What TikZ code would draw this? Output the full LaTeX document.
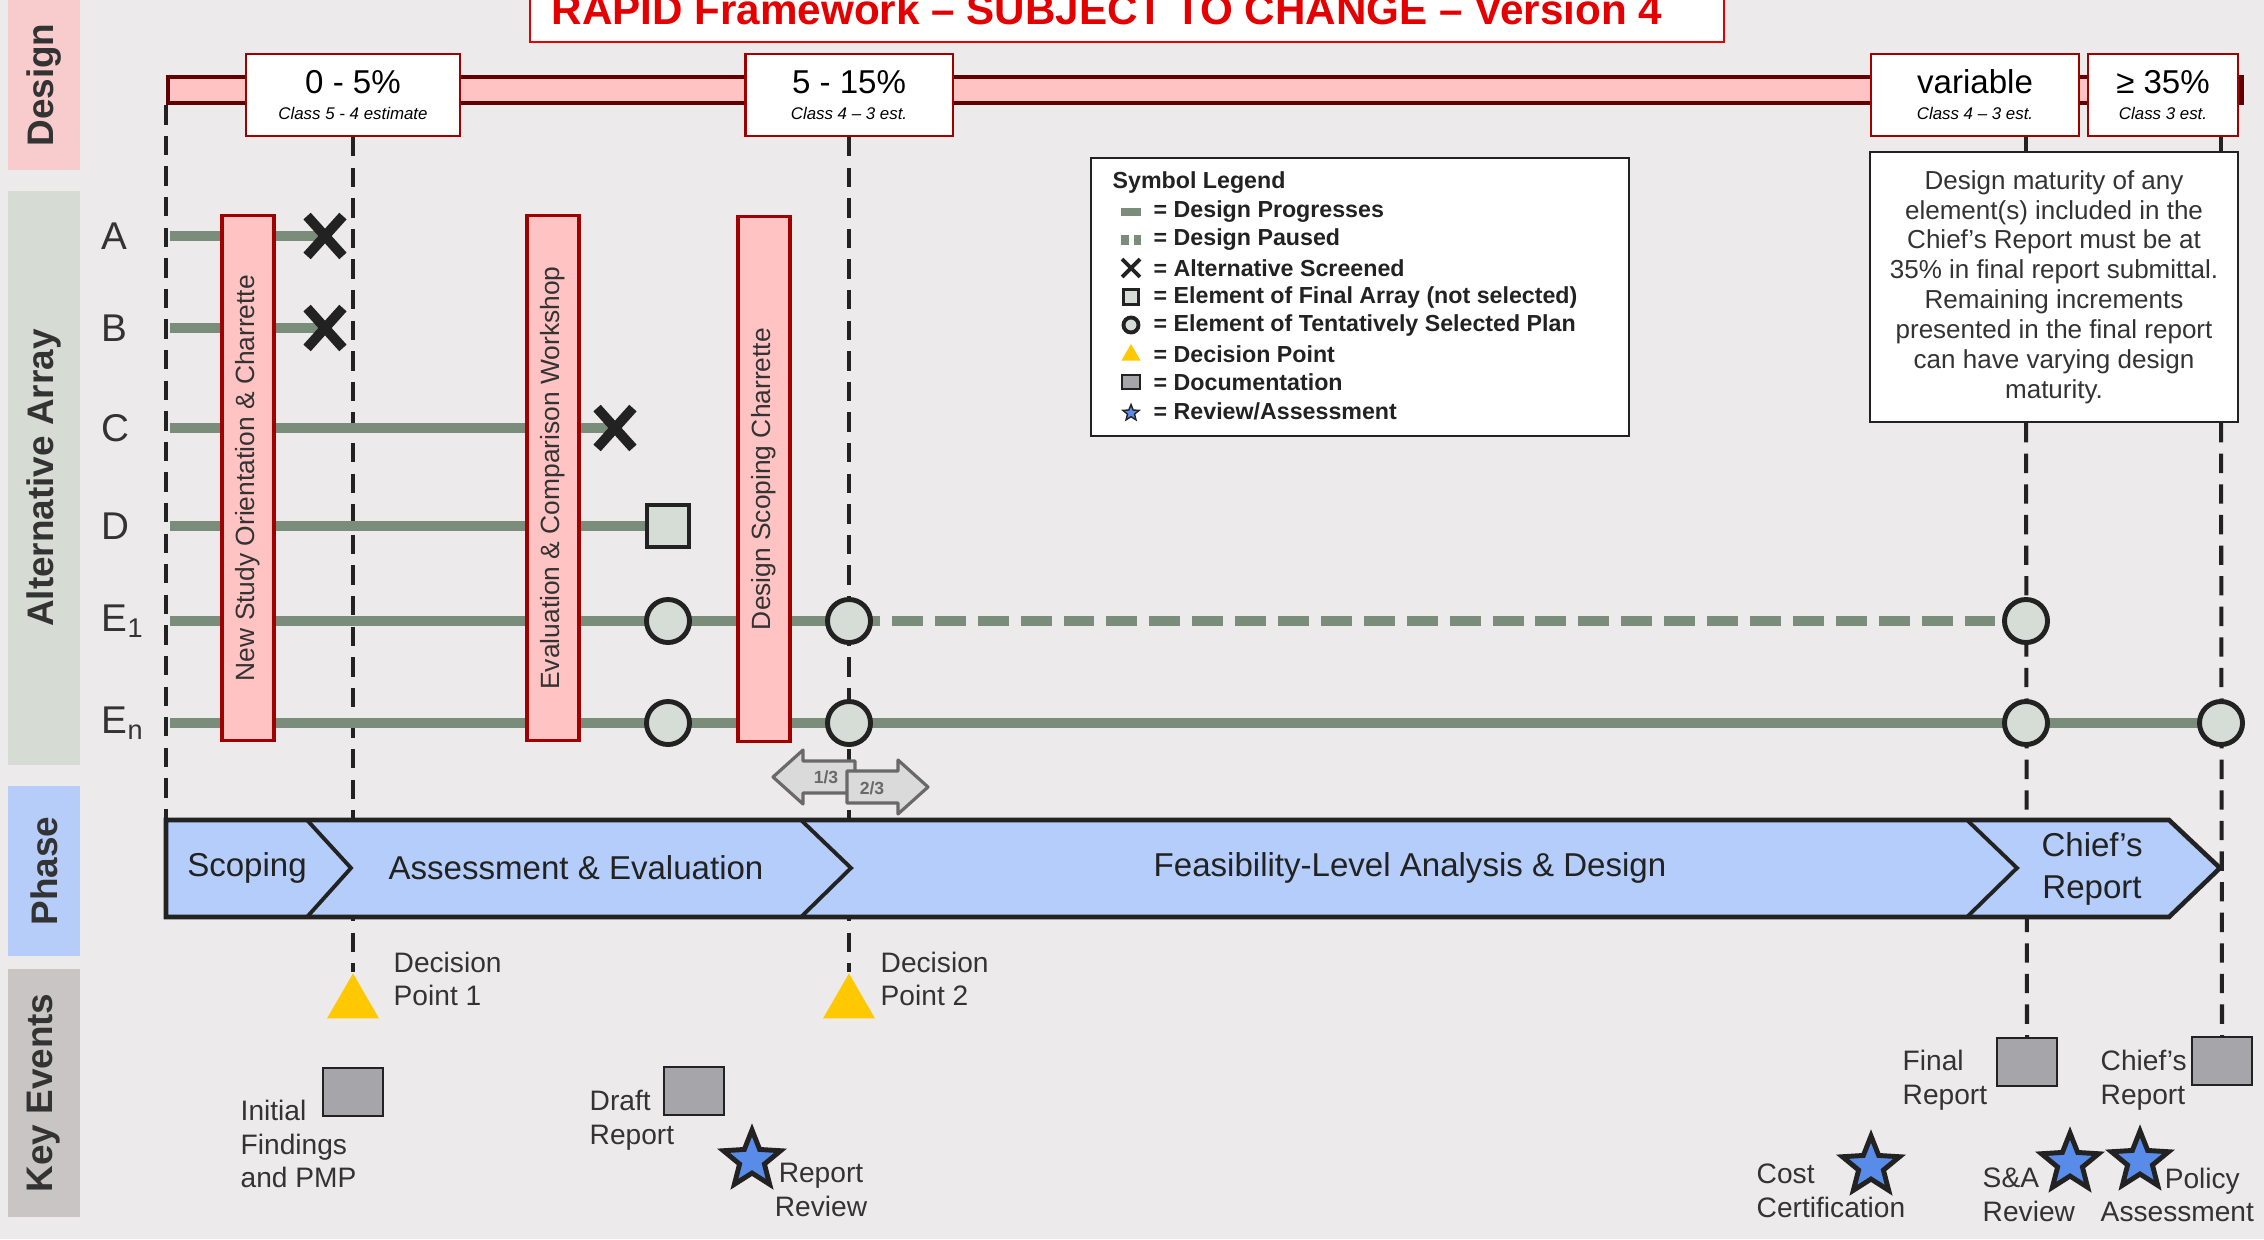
\documentclass[tikz,border=0pt]{standalone}
\usepackage{fontspec}
\setmainfont{Liberation Sans}
\usetikzlibrary{positioning, shapes.geometric, shapes.misc}

\definecolor{bgcol}{RGB}{236,234,234}
\definecolor{ink}{RGB}{34,34,34}
\definecolor{txt}{RGB}{51,51,51}
\definecolor{progcol}{RGB}{122,140,122}
\definecolor{symfill}{RGB}{214,221,214}
\definecolor{barpink}{RGB}{255,195,195}
\definecolor{barred}{RGB}{160,0,0}
\definecolor{titlered}{RGB}{228,0,0}
\definecolor{phaseblue}{RGB}{181,205,250}
\definecolor{dpyellow}{RGB}{255,200,0}
\definecolor{docgray}{RGB}{166,166,170}
\definecolor{starblue}{RGB}{88,140,232}
\definecolor{designband}{RGB}{248,204,204}
\definecolor{altband}{RGB}{214,219,211}
\definecolor{phaseband}{RGB}{181,205,248}
\definecolor{keyband}{RGB}{201,197,197}
\definecolor{arrowgray}{RGB}{218,218,218}
\definecolor{arrowedge}{RGB}{105,105,105}

\pgfdeclarelayer{back}
\pgfdeclarelayer{links}
\pgfsetlayers{back,links,main}

\newcommand{\fsz}[2]{\fontsize{#1}{#2}\selectfont}

\tikzset{
  band/.style={fill=#1, rotate=90, minimum height=0.72cm, inner sep=0pt,
    text=txt, font=\bfseries\fsz{10.5}{12}},
  row label/.style={anchor=west, inner sep=0pt, text=txt, font=\fsz{11}{13}},
  stage/.style={rectangle, rotate=90, fill=barpink, draw=barred, line width=0.9pt,
    minimum width=5.25cm, minimum height=0.52cm, inner sep=0pt, text=txt,
    font=\fsz{7.5}{9}},
  pct/.style={rectangle, fill=white, draw=barred, line width=0.6pt,
    minimum height=0.82cm, inner sep=0pt, align=center, text=black,
    font=\fsz{9.4}{7.4}},
  prog/.style={progcol, line width=2.85pt},
  paused/.style={prog, dash pattern=on 8.8pt off 3.4pt},
  vdash/.style={ink, line width=1.15pt, dash pattern=on 5.5pt off 3.2pt},
  xmark/.style={cross out, draw=ink, line width=2.8pt, minimum width=0.26cm,
    minimum height=0.30cm, inner sep=0pt},
  sq/.style={rectangle, fill=symfill, draw=ink, line width=1.4pt,
    minimum size=0.42cm, inner sep=0pt},
  tsp/.style={circle, fill=symfill, draw=ink, line width=1.4pt,
    minimum size=0.43cm, inner sep=0pt},
  dtri/.style={regular polygon, regular polygon sides=3, fill=dpyellow,
    minimum size=0.60cm, inner sep=0pt},
  doc/.style={chamfered rectangle, chamfered rectangle corners=south east,
    chamfered rectangle xsep=0.07cm, chamfered rectangle ysep=0.07cm,
    fill=docgray, draw=ink, line width=0.6pt, minimum width=0.60cm,
    minimum height=0.48cm, inner sep=0pt},
  review/.style={star, star points=5, star point ratio=2.3, fill=starblue,
    draw=ink, line width=1.4pt, minimum size=0.60cm, inner sep=0pt},
  evt/.style={anchor=west, inner sep=0pt, align=left, text=txt, font=\fsz{8}{9.6}},
  phase/.style={text=ink, font=\fsz{9.4}{11.7}, align=center},
  legtxt/.style={anchor=west, text=ink, font=\bfseries\fsz{6.6}{8}, inner sep=0pt},
  thirds/.style={fill=arrowgray, draw=arrowedge, line width=0.9pt, line join=round},
}

\begin{document}
\begin{tikzpicture}[x=0.01cm, y=-0.01cm]
  \useasboundingbox (0,0) rectangle (2264,1239);
  \clip (0,0) rectangle (2264,1239);
  \begin{pgfonlayer}{back}
    \fill[bgcol] (0,0) rectangle (2264,1239);
  \end{pgfonlayer}

  % side bands
  \node[band=designband, minimum width=1.70cm] (bandD) at (44,85) {Design};
  \node[band=altband, minimum width=5.73cm] (bandA) at (44,478) {Alternative Array};
  \node[band=phaseband, minimum width=1.69cm] (bandP) at (44,871) {Phase};
  \node[band=keyband, minimum width=2.47cm] (bandK) at (44,1093) {Key Events};

  % title
  \node[draw=titlered, fill=white, line width=0.6pt, minimum width=11.94cm,
    minimum height=0.9cm, anchor=south] (title) at (1127,43) {};
  \node[anchor=base, text=titlered, font=\bfseries\fsz{12}{14}] (titletext) at (1107,24)
    {RAPID Framework – SUBJECT TO CHANGE – Version 4};

  % design maturity
  \node[rectangle, fill=barpink, draw=barred!60!black, line width=1.25pt,
    minimum width=20.72cm, minimum height=0.26cm, inner sep=0pt, anchor=west] (dbar) at (166,90) {};
  \node[pct, minimum width=2.13cm] (p05) at (353,95)
    {0 - 5\%\\{\fsz{4.8}{6}\itshape Class 5 - 4 estimate}};
  \node[pct, minimum width=2.07cm] (p515) at (849,95)
    {5 - 15\%\\{\fsz{4.8}{6}\itshape Class 4 – 3 est.}};
  \node[pct, minimum width=2.08cm] (pvar) at (1975,95)
    {variable\\{\fsz{4.8}{6}\itshape Class 4 – 3 est.}};
  \node[pct, minimum width=1.50cm] (p35) at (2163,95)
    {≥ 35\%\\{\fsz{4.8}{6}\itshape Class 3 est.}};

  \node[rectangle, fill=white, draw=ink, line width=0.6pt, minimum width=3.67cm,
    minimum height=2.70cm, align=center, text=txt, font=\fsz{7.4}{8.5}] (note) at (2054,287)
    {Design maturity of any\\element(s) included in the\\Chief’s Report must be at\\35\% in final report submittal.\\Remaining increments\\presented in the final report\\can have varying design\\maturity.};

  % legend
  \node[rectangle, fill=white, draw=ink, line width=0.6pt, minimum width=5.37cm,
    minimum height=2.77cm] (legend) at (1360,297) {};
  \node[legtxt] (legtitle) at (1112,183) {Symbol Legend};
  \node[rectangle, fill=progcol, minimum width=0.20cm, minimum height=0.08cm, inner sep=0pt] (ls1) at (1131,212) {};
  \draw[progcol, line width=2.6pt, dash pattern=on 2.3pt off 1.4pt] (1121,240) -- (1141,240);
  \node[cross out, draw=ink, line width=1.1pt, minimum size=0.14cm, inner sep=0pt] (ls3) at (1131,268) {};
  \node[sq, line width=1.1pt, minimum size=0.15cm] (ls4) at (1131,297) {};
  \node[tsp, line width=1.1pt, minimum size=0.15cm] (ls5) at (1131,325) {};
  \node[dtri, minimum size=0.22cm] (ls6) at (1131,355) {};
  \node[doc, minimum width=0.18cm, minimum height=0.14cm, chamfered rectangle xsep=0.03cm,
    chamfered rectangle ysep=0.03cm, line width=0.5pt] (ls7) at (1131,382) {};
  \node[review, minimum size=0.17cm, line width=0.4pt] (ls8) at (1131,413) {};
  \node[legtxt] (lt1) at (1153,212) {= Design Progresses};
  \node[legtxt] (lt2) at (1153,240) {= Design Paused};
  \node[legtxt] (lt3) at (1153,268) {= Alternative Screened};
  \node[legtxt] (lt4) at (1153,297) {= Element of Final Array (not selected)};
  \node[legtxt] (lt5) at (1153,325) {= Element of Tentatively Selected Plan};
  \node[legtxt] (lt6) at (1153,354) {= Decision Point};
  \node[legtxt] (lt7) at (1153,382) {= Documentation};
  \node[legtxt] (lt8) at (1153,411) {= Review/Assessment};

  % alternatives
  \node[row label] (lA) at (101,236) {A};
  \node[row label] (lB) at (101,328) {B};
  \node[row label] (lC) at (101,428) {C};
  \node[row label] (lD) at (101,526) {D};
  \node[row label] (lE1) at (101,621) {E\textsubscript{1}};
  \node[row label] (lEn) at (101,723) {E\textsubscript{n}};
  \coordinate (sA) at (170,236);
  \coordinate (sB) at (170,328);
  \coordinate (sC) at (170,428);
  \coordinate (sD) at (170,526);
  \coordinate (sE1) at (170,621);
  \coordinate (sEn) at (170,723);

  \node[stage] (nso) at (248,478) {New Study Orientation \& Charrette};
  \node[stage] (ecw) at (553,478) {Evaluation \& Comparison Workshop};
  \node[stage] (dsc) at (764,479) {Design Scoping Charrette};

  \node[xmark] (xA) at (325,236) {};
  \node[xmark] (xB) at (325,328) {};
  \node[xmark] (xC) at (615,428) {};
  \node[sq] (sqD) at (668,526) {};
  \node[tsp] (cE1a) at (668,621) {};
  \node[tsp] (cE1b) at (849,621) {};
  \node[tsp] (cE1c) at (2026,621) {};
  \node[tsp] (cEna) at (668,723) {};
  \node[tsp] (cEnb) at (849,723) {};
  \node[tsp] (cEnc) at (2026,723) {};
  \node[tsp] (cEnd) at (2221,723) {};

  % 1/3 - 2/3 split
  \filldraw[thirds] (773,777) -- (803,750) -- (803,761) -- (855,761) -- (855,793)
    -- (803,793) -- (803,804) -- cycle;
  \node[font=\bfseries\fsz{5}{6}, text=arrowedge] (third1) at (826,777) {1/3};
  \filldraw[thirds] (847,771) -- (898,771) -- (898,760) -- (928,787) -- (898,814)
    -- (898,803) -- (847,803) -- cycle;
  \node[font=\bfseries\fsz{5}{6}, text=arrowedge] (third2) at (872,788) {2/3};

  % phases
  \coordinate (phtl) at (166,820);
  \filldraw[fill=phaseblue, draw=ink, line width=1.3pt, line join=miter]
    (phtl) -- (2169,820) -- (2220,868) -- (2169,917) -- (166,917) -- cycle;
  \draw[ink, line width=1.1pt] (307,820) -- (351,868) -- (307,917);
  \draw[ink, line width=1.1pt] (801,820) -- (851,868) -- (801,917);
  \draw[ink, line width=1.1pt] (1967,820) -- (2017,868) -- (1967,917);
  \node[phase] (ph1) at (247,868) {Scoping};
  \node[phase] (ph2) at (576,868) {Assessment \& Evaluation};
  \node[phase] (ph3) at (1410,868) {Feasibility-Level Analysis \& Design};
  \node[phase] (ph4) at (2092,869) {Chief’s\\Report};

  % key events
  \node[dtri, anchor=corner 1] (dp1) at (353,972) {};
  \node[dtri, anchor=corner 1] (dp2) at (849,972) {};
  \node[evt, font=\fsz{8}{9.4}] (dpl1) at (393,979) {Decision\\Point 1};
  \node[evt, font=\fsz{8}{9.4}] (dpl2) at (880,979) {Decision\\Point 2};

  \node[doc] (docI) at (353,1092) {};
  \node[doc] (docD) at (694,1091) {};
  \node[doc] (docF) at (2027,1062) {};
  \node[doc] (docC) at (2222,1061) {};
  \node[review] (sRR) at (752,1160) {};
  \node[review] (sCost) at (1871,1166) {};
  \node[review] (sSA) at (2070,1163) {};
  \node[review] (sPol) at (2140,1161) {};

  \node[evt] (eI) at (240,1144) {Initial\\Findings\\and PMP};
  \node[evt] (eD) at (589,1120) {Draft\\Report};
  \node[evt, anchor=center, align=center] (eRR) at (821,1190) {Report\\Review};
  \node[evt] (eF) at (1902,1080) {Final\\Report};
  \node[evt] (eC) at (2100,1080) {Chief’s\\Report};
  \node[evt] (eCost) at (1756,1191) {Cost\\Certification};
  \node[evt] (eSA) at (1982,1195) {S\&A\\Review};
  \node[evt] (ePol) at (2100,1195) {\hspace*{0.64cm}Policy\\Assessment};

  % connectors
  \begin{pgfonlayer}{links}
    \draw[vdash] (dbar.south west) -- (phtl);
    \draw[vdash] (p05.south) -- (dp1.corner 1);
    \draw[vdash] (p515.south) -- (dp2.corner 1);
    \draw[vdash] (pvar.south -| cE1c) -- (note.north -| cE1c);
    \draw[vdash] (note.south -| cE1c) -- (docF.north);
    \draw[vdash] (p35.south -| cEnd) -- (note.north -| cEnd);
    \draw[vdash] (note.south -| cEnd) -- (docC.north);

    \draw[prog] (sA) -- (xA.center);
    \draw[prog] (sB) -- (xB.center);
    \draw[prog] (sC) -- (xC.center);
    \draw[prog] (sD) -- (sqD.center);
    \draw[prog] (sE1) -- (cE1a.center) -- (cE1b.center);
    \draw[paused] (cE1b.center) -- (cE1c.center);
    \draw[prog] (sEn) -- (cEna.center) -- (cEnb.center) -- (cEnc.center) -- (cEnd.center);
  \end{pgfonlayer}
\end{tikzpicture}
\end{document}
